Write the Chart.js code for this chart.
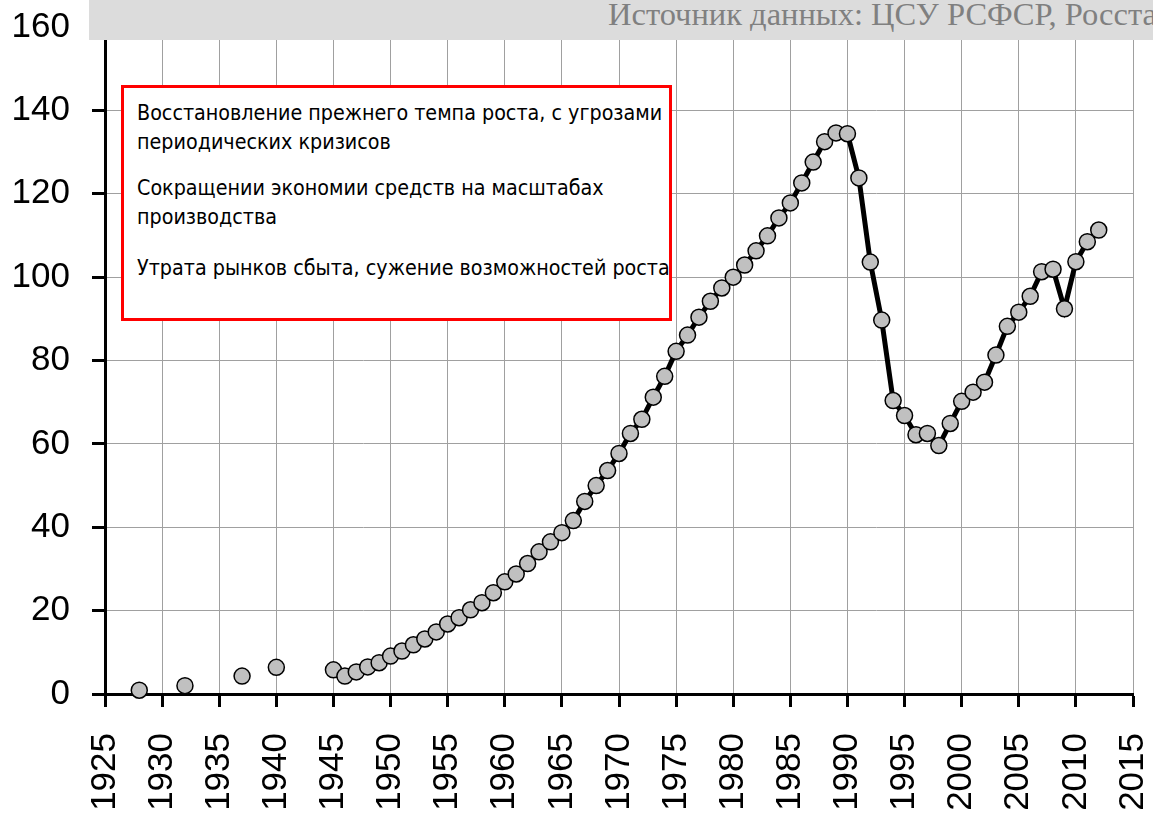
<!DOCTYPE html>
<html><head><meta charset="utf-8">
<script src="https://cdn.jsdelivr.net/npm/chart.js@4"></script>
<style>
html,body{margin:0;padding:0;background:#fff;}
#wrap{position:relative;width:1153px;height:813px;overflow:hidden;}
#wrap canvas{position:absolute;left:0;top:0;}
#src{position:absolute;left:89px;top:0;width:1064px;height:40px;background:#dcdcdc;overflow:hidden;white-space:nowrap;}
#src span{position:absolute;left:519px;top:-2px;font-family:"Liberation Serif","Times New Roman",serif;font-size:32.5px;color:#808080;line-height:32px;}
#box{position:absolute;left:121px;top:85px;width:551px;height:236px;box-sizing:border-box;border:3px solid #ff0000;background:#fff;white-space:nowrap;overflow:hidden;
 font-family:"DejaVu Sans Condensed","Liberation Sans",sans-serif;font-stretch:condensed;font-size:21.3px;color:#000;padding:10px 0 0 13px;}
#box p{margin:0;line-height:29px;}
#box p.a{margin-bottom:17px;}
#box p.b{margin-bottom:22px;}
</style>
</head><body>
<div id="wrap">
<canvas id="c" width="1153" height="813"></canvas>
<div id="src"><span>Источник данных: ЦСУ РСФСР, Росстат</span></div>
<div id="box">
<p class="a">Восстановление прежнего темпа роста, с угрозами<br>периодических кризисов</p>
<p class="b">Сокращении экономии средств на масштабах<br>производства</p>
<p>Утрата рынков сбыта, сужение возможностей роста</p>
</div>
</div>
<script>
const years = [1928,1932,1937,1940,1945,1946,1947,1948,1949,1950,1951,1952,1953,1954,1955,1956,1957,1958,1959,1960,1961,1962,1963,1964,1965,1966,1967,1968,1969,1970,1971,1972,1973,1974,1975,1976,1977,1978,1979,1980,1981,1982,1983,1984,1985,1986,1987,1988,1989,1990,1991,1992,1993,1994,1995,1996,1997,1998,1999,2000,2001,2002,2003,2004,2005,2006,2007,2008,2009,2010,2011,2012];
const values = [0.9,2.0,4.3,6.4,5.8,4.3,5.3,6.5,7.5,9.1,10.3,11.8,13.2,14.9,16.8,18.3,20.2,21.9,24.3,26.9,28.8,31.3,34.1,36.5,38.7,41.6,46.2,50.0,53.6,57.7,62.5,65.9,71.2,76.2,82.2,86.1,90.4,94.2,97.4,100.0,102.9,106.3,109.9,114.2,117.8,122.6,127.6,132.5,134.6,134.4,123.8,103.6,89.7,70.4,66.8,62.2,62.5,59.6,64.9,70.2,72.4,74.8,81.3,88.2,91.6,95.4,101.3,101.9,92.4,103.7,108.5,111.3];
const xMin = 1925, xMax = 2015, xStep = 5;
const yMin = 0, yMax = 160, yStep = 20;

const tickFont = {family:'"Liberation Sans", Arial, sans-serif', size:35};
new Chart(document.getElementById('c'), {
  type:'line',
  data:{datasets:[{
    data: years.map((y,i)=>({x:y,y:values[i]})),
    borderColor:'#000', borderWidth:5, tension:0,
    pointRadius:8, pointHoverRadius:8, pointBackgroundColor:'#c0c0c0', pointBorderColor:'#000', pointBorderWidth:1.5,
    clip:false,
    segment:{borderColor: ctx => (ctx.p1.parsed.x - ctx.p0.parsed.x > 1 ? 'rgba(0,0,0,0)' : '#000')}
  }]},
  options:{
    responsive:false, animation:false,
    layout:{padding:{top:27,right:20,left:0,bottom:0}},
    plugins:{legend:{display:false},tooltip:{enabled:false}},
    scales:{
      x:{type:'linear',min:xMin,max:xMax,
        afterFit:s=>{s.height=119;s.paddingLeft=0;s.paddingRight=0;},
        border:{color:'#000',width:3},
        grid:{color:'#a0a0a0',lineWidth:1,tickLength:13,tickColor:'#000',tickWidth:3},
        ticks:{stepSize:xStep,minRotation:90,maxRotation:90,color:'#000',font:tickFont,padding:26,callback:v=>String(v)}},
      y:{min:yMin,max:yMax,
        afterFit:s=>{s.width=105;s.paddingTop=0;s.paddingBottom=0;},
        border:{color:'#000',width:3},
        grid:{color:'#a0a0a0',lineWidth:1,tickLength:13,tickColor:'#000',tickWidth:3},
        ticks:{stepSize:yStep,color:'#000',font:tickFont,padding:22}}
    }
  }
});
</script>
</body></html>
